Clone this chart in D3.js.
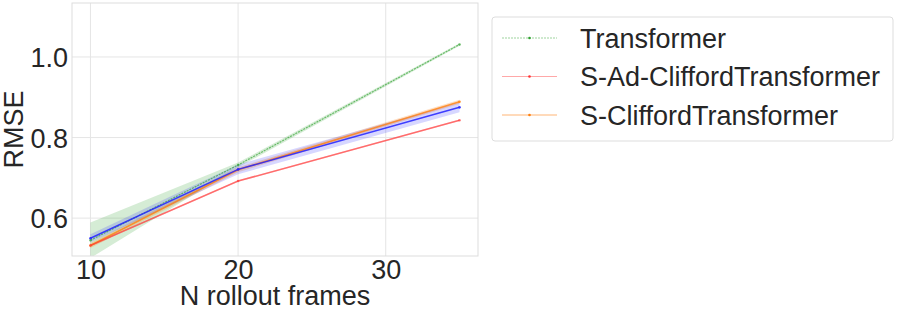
<!DOCTYPE html>
<html>
<head>
<meta charset="utf-8">
<script src="https://cdn.jsdelivr.net/npm/d3@7"></script>
<style>
body{margin:0;background:#fff;}
text{font-family:"Liberation Sans",Arial,sans-serif;fill:#262626;}
</style>
</head>
<body>
<div id="chart"></div>
<script>
// rollout frames
var frames = [10, 20, 35];
// mean RMSE per series, with band half-widths
var transformer = [0.545, 0.732, 1.031];
var transformerErr = [0.044, 0.006, 0.003];
var adClifford = [0.532, 0.692, 0.843];
var adCliffordErr = [0.002, 0.002, 0.002];
var clifford = [0.532, 0.720, 0.889];
var cliffordErr = [0.006, 0.006, 0.005];
var blueRun = [0.550, 0.721, 0.875];
var blueRunErr = [0.010, 0.012, 0.012];
var xTicks = [10, 20, 30];
var yTicks = [0.6, 0.8, 1.0];

window.onload = function(){
	var svg = d3.select("#chart").append("svg").attr("width", 897).attr("height", 315);

	var x = d3.scaleLinear().domain([8.75, 36.25]).range([72, 478]);
	var y = d3.scaleLinear().domain([0.506, 1.134]).range([256, 3]);

	// grid
	svg.append("g").selectAll("line.vg").data(xTicks).enter().append("line")
		.attr("x1", function(d){ return x(d); }).attr("x2", function(d){ return x(d); })
		.attr("y1", 3).attr("y2", 256).attr("stroke", "#e5e5e5").attr("stroke-width", 1);
	svg.append("g").selectAll("line.hg").data(yTicks).enter().append("line")
		.attr("y1", function(d){ return y(d); }).attr("y2", function(d){ return y(d); })
		.attr("x1", 72).attr("x2", 478).attr("stroke", "#e5e5e5").attr("stroke-width", 1);

	var series = [
		{name: "Transformer", v: transformer, e: transformerErr, color: "#2ca02c", band: 0.2, dash: "2,1", op: 0.65, w: 1.2},
		{name: "S-CliffordTransformer", v: clifford, e: cliffordErr, color: "#ff7f0e", band: 0.25, dash: null, op: 0.8, w: 1.5},
		{name: "blue", v: blueRun, e: blueRunErr, color: "#2222ff", band: 0.18, dash: null, op: 0.85, w: 1.5},
		{name: "S-Ad-CliffordTransformer", v: adClifford, e: adCliffordErr, color: "#ff3333", band: 0.3, dash: null, op: 0.6, w: 1.5}
	];

	var area = d3.area()
		.x(function(d){ return x(d.f); })
		.y0(function(d){ return y(d.m - d.e); })
		.y1(function(d){ return y(d.m + d.e); });
	var line = d3.line()
		.x(function(d){ return x(d.f); })
		.y(function(d){ return y(d.m); });

	var plot = svg.append("g");
	plot.append("clipPath").attr("id", "clip").append("rect")
		.attr("x", 72).attr("y", 3).attr("width", 406).attr("height", 253);
	var inner = plot.append("g").attr("clip-path", "url(#clip)");

	series.forEach(function(s){
		var pts = frames.map(function(f, i){ return {f: f, m: s.v[i], e: s.e[i]}; });
		inner.append("path").datum(pts).attr("d", area)
			.attr("fill", s.color).attr("opacity", s.band).attr("stroke", "none");
	});
	series.forEach(function(s){
		var pts = frames.map(function(f, i){ return {f: f, m: s.v[i], e: s.e[i]}; });
		inner.append("path").datum(pts).attr("d", line)
			.attr("fill", "none").attr("stroke", s.color).attr("stroke-width", s.w)
			.attr("opacity", s.op).attr("stroke-dasharray", s.dash);
		inner.selectAll(null).data(pts).enter().append("circle")
			.attr("cx", function(d){ return x(d.f); }).attr("cy", function(d){ return y(d.m); })
			.attr("r", 1.3).attr("fill", s.color).attr("opacity", s.op);
	});

	// frame
	svg.append("rect").attr("x", 72).attr("y", 3).attr("width", 406).attr("height", 253)
		.attr("fill", "none").attr("stroke", "#dddddd").attr("stroke-width", 1);

	var xAxis = d3.axisBottom(x).tickValues(xTicks).tickSize(0).tickPadding(0);
	var yAxis = d3.axisLeft(y).tickValues(yTicks).tickSize(0).tickPadding(0).tickFormat(d3.format(".1f"));

	var gx = svg.append("g").attr("transform", "translate(0,256)").call(xAxis);
	gx.select(".domain").remove();
	gx.selectAll("text").attr("y", 0).attr("dy", "23px").style("font-size", "27px");

	var gy = svg.append("g").attr("transform", "translate(68,0)").call(yAxis);
	gy.select(".domain").remove();
	gy.selectAll("text").attr("x", 0).attr("dy", "0.36em").style("font-size", "27px");

	svg.append("text").attr("text-anchor", "middle").attr("x", 275).attr("y", 305)
		.style("font-size", "27px").text("N rollout frames");
	svg.append("text").attr("text-anchor", "middle")
		.attr("transform", "translate(23,129.5) rotate(-90)")
		.style("font-size", "27px").text("RMSE");

	// legend
	var legendItems = [series[0], series[3], series[1]];
	var lg = svg.append("g");
	lg.append("rect").attr("x", 492).attr("y", 17).attr("width", 401).attr("height", 124)
		.attr("rx", 3).attr("fill", "#fff").attr("stroke", "#dddddd").attr("stroke-width", 1);
	legendItems.forEach(function(s, i){
		var cy = 38 + i * 38.5;
		lg.append("line").attr("x1", 502).attr("x2", 557).attr("y1", cy).attr("y2", cy)
			.attr("stroke", s.color).attr("stroke-width", 1.2).attr("opacity", s.op * 0.7)
			.attr("stroke-dasharray", s.dash);
		lg.append("circle").attr("cx", 529.5).attr("cy", cy).attr("r", 1.3).attr("fill", s.color);
		lg.append("text").attr("x", 580).attr("y", cy).attr("dy", "0.36em")
			.style("font-size", "27px").text(s.name);
	});
};
</script>
</body>
</html>
